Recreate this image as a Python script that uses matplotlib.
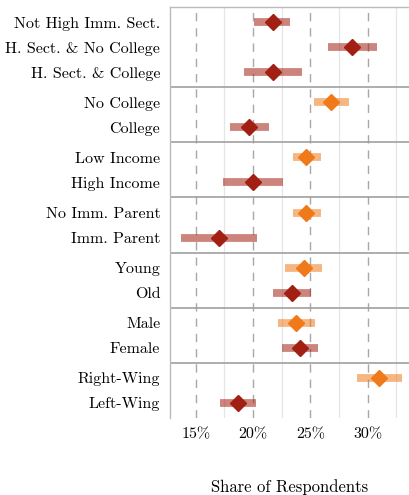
import matplotlib
matplotlib.use("Agg")
import matplotlib.pyplot as plt

plt.rcParams['font.family'] = ['cmr10', 'DejaVu Serif']
plt.rcParams['axes.formatter.use_mathtext'] = True

# groups of rows, top to bottom
groups = [
    ["Not High Imm. Sect.", "H. Sect. & No College", "H. Sect. & College"],
    ["No College", "College"],
    ["Low Income", "High Income"],
    ["No Imm. Parent", "Imm. Parent"],
    ["Young", "Old"],
    ["Male", "Female"],
    ["Right-Wing", "Left-Wing"],
]
estimates = [21.7, 28.65, 21.7, 26.8, 19.65, 24.65, 20.0, 24.65, 17.05,
             24.4, 23.4, 23.75, 24.1, 31.0, 18.7]
ci_low = [20.05, 26.5, 19.2, 25.3, 18.0, 23.45, 17.35, 23.45, 13.75,
          22.8, 21.75, 22.15, 22.5, 29.1, 17.15]
ci_high = [23.25, 30.8, 24.25, 28.35, 21.35, 25.95, 22.65, 25.9, 20.35,
           26.0, 25.05, 25.4, 25.7, 32.95, 20.25]
highlight = [0, 0, 0, 1, 0, 1, 0, 1, 0, 1, 0, 1, 0, 1, 0]

DARK = "#a21f13"
ORANGE = "#f07a1a"

# y positions: 1 unit per row, 0.6 padding round each group
labels, ypos, seps = [], [], []
y = 0.0
for gi, g in enumerate(groups):
    y += 0.6
    for j, lab in enumerate(g):
        labels.append(lab)
        ypos.append(y)
        if j < len(g) - 1:
            y += 1.0
    y += 0.6
    if gi < len(groups) - 1:
        seps.append(y)
ytop = y

fig = plt.figure(figsize=(4.09, 4.95), dpi=100)
ax = fig.add_axes([170 / 409, 1 - 418 / 495, 239 / 409, 411 / 495])

for xv in [17.5, 22.5, 27.5, 32.5]:
    ax.axvline(xv, color="#e6e6e6", lw=0.9, zorder=0)
for xv in [15, 20, 25, 30]:
    ax.axvline(xv, color="#a8a8a8", lw=1.0, ls=(0, (6, 5)), zorder=0)
for s in seps:
    ax.axhline(s, color="#a0a0a0", lw=1.2, zorder=1)

for i in range(len(labels)):
    c = ORANGE if highlight[i] else DARK
    ax.plot([ci_low[i], ci_high[i]], [ypos[i], ypos[i]], color=c, alpha=0.55,
            lw=5.6, solid_capstyle="butt", zorder=2)
    ax.plot(estimates[i], ypos[i], marker="D", ms=8, color=c, mec=c, zorder=3)

ax.set_ylim(ytop, 0)
ax.set_xlim(12.75, 33.6)
ax.set_yticks(ypos)
ax.set_yticklabels(labels, fontsize=11.5)
ax.set_xticks([15, 20, 25, 30])
ax.set_xticklabels(["15%", "20%", "25%", "30%"], fontsize=11.5)
ax.tick_params(length=0, pad=7)
ax.set_xlabel("Share of Respondents", fontsize=12, labelpad=27)

for side in ["top", "left"]:
    ax.spines[side].set_color("#bbbbbb")
    ax.spines[side].set_linewidth(1.0)
for side in ["right", "bottom"]:
    ax.spines[side].set_visible(False)

fig.savefig("out.png", dpi=100)
